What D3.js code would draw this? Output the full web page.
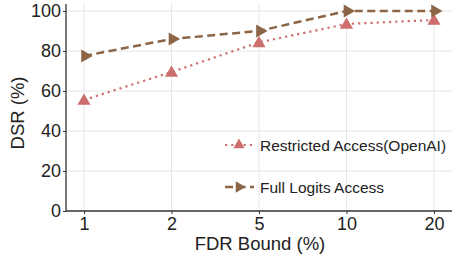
<!DOCTYPE html>
<html><head><meta charset="utf-8">
<script src="https://cdn.jsdelivr.net/npm/d3@7"></script>
<style>body{margin:0;background:#fff}svg{display:block;font-family:"Liberation Sans",Arial,sans-serif}</style>
</head><body><svg id="c" width="452" height="261"></svg>
<script>
const categories = ["1","2","5","10","20"];
const restricted = [55.5, 69.5, 84.3, 93.5, 95.5];
const fullLogits = [77.5, 86, 90, 100, 100];
const yTicks = [0,20,40,60,80,100];
const seriesNames = ["Restricted Access(OpenAI)","Full Logits Access"];

const svg = d3.select("#c");
const L = 66, R = 452, T = 4, B = 211;
const x = d3.scalePoint().domain(categories).range([L, R]).padding(0.206);
const y = d3.scaleLinear().domain([0, 103.5]).range([B, T]);

// grid
svg.append("g").selectAll("line").data(yTicks.slice(1)).join("line")
  .attr("x1", L).attr("x2", R).attr("y1", d=>y(d)).attr("y2", d=>y(d))
  .attr("stroke", "#e6e6e6").attr("stroke-width", 1);
svg.append("g").selectAll("line").data(categories).join("line")
  .attr("x1", d=>x(d)).attr("x2", d=>x(d)).attr("y1", T).attr("y2", B)
  .attr("stroke", "#e6e6e6").attr("stroke-width", 1);

// axes
const ya = svg.append("g").attr("transform", `translate(${L},0)`)
  .call(d3.axisLeft(y).tickValues(yTicks).tickSize(3).tickPadding(2));
const xa = svg.append("g").attr("transform", `translate(0,${B})`)
  .call(d3.axisBottom(x).tickSize(3).tickPadding(3));
[ya, xa].forEach(a => {
  a.select(".domain").attr("stroke", "#333").attr("stroke-width", 1.3);
  a.selectAll(".tick line").attr("stroke", "#333");
  a.selectAll(".tick text").attr("fill", "#222").style("font-size", "18px");
});
ya.select(".domain").attr("d", `M0,${B}V${T}`);
xa.select(".domain").attr("d", `M${L},0H${R}`);

const colR = "#cd6e6e", colF = "#8b6545";
const line = d3.line().x((d,i)=>x(categories[i])).y(d=>y(d));

svg.append("path").datum(restricted).attr("d", line).attr("fill","none")
  .attr("stroke", colR).attr("stroke-width", 2.2).attr("stroke-dasharray","2.2,4").attr("stroke-linecap","butt");
svg.append("path").datum(fullLogits).attr("d", line).attr("fill","none")
  .attr("stroke", colF).attr("stroke-width", 2.5).attr("stroke-dasharray","8,4.5");

const triUp = d3.symbol().type(d3.symbolTriangle).size(75);
const triLg = d3.symbol().type(d3.symbolTriangle).size(55);
svg.append("g").selectAll("path").data(restricted).join("path")
  .attr("d", triUp).attr("fill", colR)
  .attr("transform", (d,i)=>`translate(${x(categories[i])},${y(d)+1})`);
svg.append("g").selectAll("path").data(fullLogits).join("path")
  .attr("d", triUp).attr("fill", colF)
  .attr("transform", (d,i)=>`translate(${x(categories[i])+1},${y(d)}) rotate(90)`);

// legend
const lg = [{n:seriesNames[0], c:colR, dash:"2.2,4", w:2.2, rot:0, y:145},
            {n:seriesNames[1], c:colF, dash:"8,4.5", w:2.5, rot:90, y:187}];
lg.forEach(o => {
  svg.append("line").attr("x1",225).attr("x2",254).attr("y1",o.y).attr("y2",o.y)
    .attr("stroke",o.c).attr("stroke-width",o.w).attr("stroke-dasharray",o.dash);
  svg.append("path").attr("d", triLg).attr("fill", o.c)
    .attr("transform", `translate(239,${o.y}) rotate(${o.rot})`);
  svg.append("text").attr("x",260).attr("y",o.y+5.5).text(o.n)
    .attr("fill","#222").style("font-size","15.5px");
});

svg.append("text").attr("x", 260).attr("y", 250).attr("text-anchor","middle")
  .attr("fill","#222").style("font-size","18.5px").text("FDR Bound (%)");
svg.append("text").attr("transform","translate(24,113) rotate(-90)").attr("text-anchor","middle")
  .attr("fill","#222").style("font-size","18.5px").text("DSR (%)");
</script></body></html>
